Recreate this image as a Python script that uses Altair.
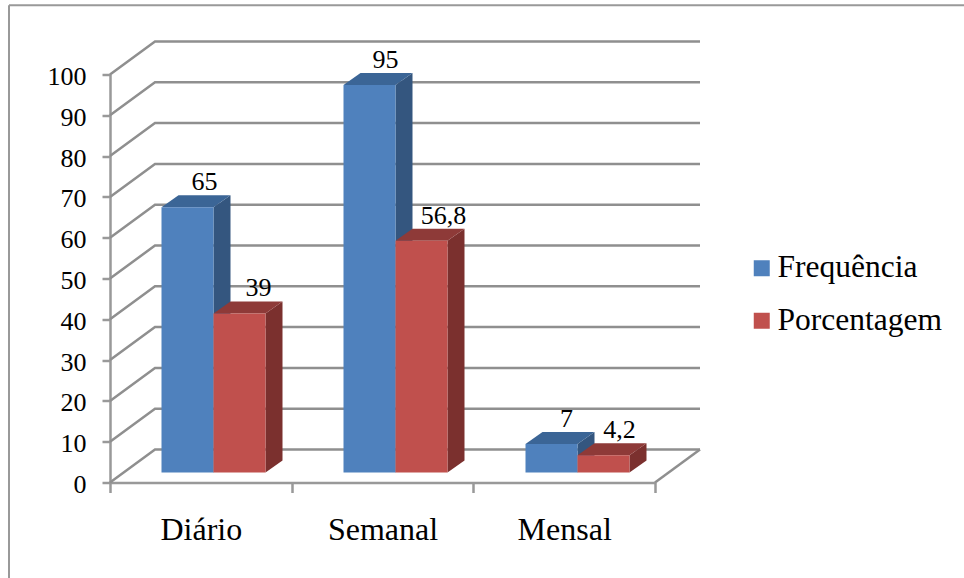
import altair as alt
import pandas as pd

categories = ["Diário", "Semanal", "Mensal"]
series_names = ["Frequência", "Porcentagem"]
frequencia = [65, 95, 7]
porcentagem = [39, 56.8, 4.2]
y_ticks = [0, 10, 20, 30, 40, 50, 60, 70, 80, 90, 100]

FONT = "Liberation Serif"
GRID = "#8f8f8f"
AXIS = "#999999"

# Oblique projection of the 3D box: value units rise, x units in pixels of the plot
PLOT_W, PLOT_H = 545, 408
UNIT = PLOT_H / 100
WALL_DX, WALL_LIFT = 45, 33 / UNIT
BAR_BASE = 10 / UNIT
BAR_DX, BAR_LIFT = 17, 12 / UNIT
BAR_W, GROUP_STEP, FIRST_BAR = 52, 182, 51.5
LABEL_SHIFT = {"39": 2, "56,8": 5, "95": -1, "7": -2, "4,2": -1}

front_colors = ["#4F81BD", "#C0504D"]
side_colors = ["#34567F", "#7B302E"]
top_colors = ["#3B6596", "#8E3A38"]

x_q = alt.Scale(domain=[0, PLOT_W], range=[0, PLOT_W], nice=False, zero=False)
y_q = alt.Scale(domain=[0, 100], nice=False, zero=False)
y_axis = alt.Axis(values=y_ticks, title=None, grid=False,
                  domainColor=AXIS, domainWidth=2.5,
                  tickColor=AXIS, tickWidth=2.5, tickSize=8,
                  labelFont=FONT, labelFontSize=26, labelColor="black",
                  labelPadding=16, labelOffset=2, labelOverlap=False, labelFlush=False)
X = lambda f: alt.X(f, type="quantitative", scale=x_q, axis=None)
Y = lambda f: alt.Y(f, type="quantitative", scale=y_q, axis=y_axis)

# Back wall, side wall and floor lines
wall_rows = []
for v in y_ticks:
    wall_rows += [
        {"g": v, "x": 0, "y": v},
        {"g": v, "x": WALL_DX, "y": v + WALL_LIFT},
        {"g": v, "x": PLOT_W + WALL_DX, "y": v + WALL_LIFT},
    ]
wall_rows += [{"g": -1, "x": PLOT_W, "y": 0}, {"g": -1, "x": PLOT_W + WALL_DX, "y": WALL_LIFT}]
walls = (
    alt.Chart(pd.DataFrame(wall_rows))
    .mark_line(color=GRID, strokeWidth=2.5)
    .encode(x=X("x"), y=Y("y"), detail="g:N")
)

# Category axis on a band scale, its ticks on the band edges
cat_axis = (
    alt.Chart(pd.DataFrame({"cat": categories}))
    .mark_bar(opacity=0)
    .encode(
        x=alt.X("cat:N", sort=categories,
                scale=alt.Scale(domain=categories, paddingInner=0, paddingOuter=0),
                axis=alt.Axis(orient="bottom", title=None, tickBand="extent", labelAngle=0,
                              domainColor=AXIS, domainWidth=2.5, tickColor=AXIS, tickWidth=2.5,
                              tickSize=10, labelFont=FONT, labelFontSize=32, labelColor="black",
                              labelPadding=22)),
        y=alt.value(0),
    )
)

# Outer chart frame
frame_left = (
    alt.Chart(pd.DataFrame({"x": [-101], "y": [117], "y2": [-24]}))
    .mark_rule(color=AXIS, strokeWidth=2)
    .encode(x=X("x"), y=Y("y"), y2="y2")
)
frame_top = (
    alt.Chart(pd.DataFrame({"x": [-101], "x2": [854], "y": [117]}))
    .mark_rule(color=AXIS, strokeWidth=2)
    .encode(x=X("x"), x2="x2", y=Y("y"))
)

legend = alt.Legend(orient="none", legendX=636, legendY=178, title=None, symbolType="square",
                    symbolSize=256, symbolStrokeWidth=0, labelFont=FONT, labelFontSize=31.5,
                    labelColor="black", labelOffset=0, labelLimit=400, rowPadding=19.5, padding=0,
                    symbolOpacity=1)

bar_layers = []
label_rows = []
for s, (name, values) in enumerate(zip(series_names, [frequencia, porcentagem])):
    side_rows, top_rows, front_rows = [], [], []
    for i, v in enumerate(values):
        left = FIRST_BAR + i * GROUP_STEP + s * BAR_W
        right = left + BAR_W
        base = BAR_BASE
        tip = BAR_BASE + v
        text = f"{v}".replace(".", ",")
        front_rows.append({"x": left, "x2": right, "y": base, "y2": tip, "series": name})
        side_rows += [
            {"k": i, "x": right, "lo": base, "hi": tip},
            {"k": i, "x": right + BAR_DX, "lo": base + BAR_LIFT, "hi": tip + BAR_LIFT},
        ]
        top_rows += [
            {"k": i, "x": left, "lo": tip, "hi": tip},
            {"k": i, "x": left + BAR_DX, "lo": tip, "hi": tip + BAR_LIFT},
            {"k": i, "x": right, "lo": tip, "hi": tip + BAR_LIFT},
            {"k": i, "x": right + BAR_DX, "lo": tip + BAR_LIFT, "hi": tip + BAR_LIFT},
        ]
        label_rows.append({"x": (left + right) / 2 + BAR_DX + LABEL_SHIFT.get(text, 0),
                           "y": tip + BAR_LIFT, "text": text})
    bar_layers.append(
        alt.Chart(pd.DataFrame(side_rows)).mark_area(color=side_colors[s], opacity=1, line=False)
        .encode(x=X("x"), y=Y("lo"), y2="hi", detail="k:N")
    )
    bar_layers.append(
        alt.Chart(pd.DataFrame(top_rows)).mark_area(color=top_colors[s], opacity=1, line=False)
        .encode(x=X("x"), y=Y("lo"), y2="hi", detail="k:N")
    )
    bar_layers.append(
        alt.Chart(pd.DataFrame(front_rows)).mark_rect()
        .encode(x=X("x"), x2="x2", y=Y("y"), y2="y2",
                color=alt.Color("series:N",
                                scale=alt.Scale(domain=series_names, range=front_colors),
                                legend=legend))
    )

labels = (
    alt.Chart(pd.DataFrame(label_rows))
    .mark_text(font=FONT, fontSize=26, color="black", baseline="alphabetic", align="center", dy=-5)
    .encode(x=X("x"), y=Y("y"), text="text:N")
)

chart = (
    alt.layer(walls, frame_left, frame_top, cat_axis, *bar_layers, labels)
    .resolve_scale(x="independent")
    .properties(
        width=PLOT_W,
        height=PLOT_H,
        padding={"left": 110, "top": 74.5, "right": 309, "bottom": 95.5},
        autosize=alt.AutoSizeParams(type="none"),
        background="white",
    )
    .configure_view(stroke=None)
)

chart.save("out.html", embed_options={"renderer": "svg", "actions": False})
